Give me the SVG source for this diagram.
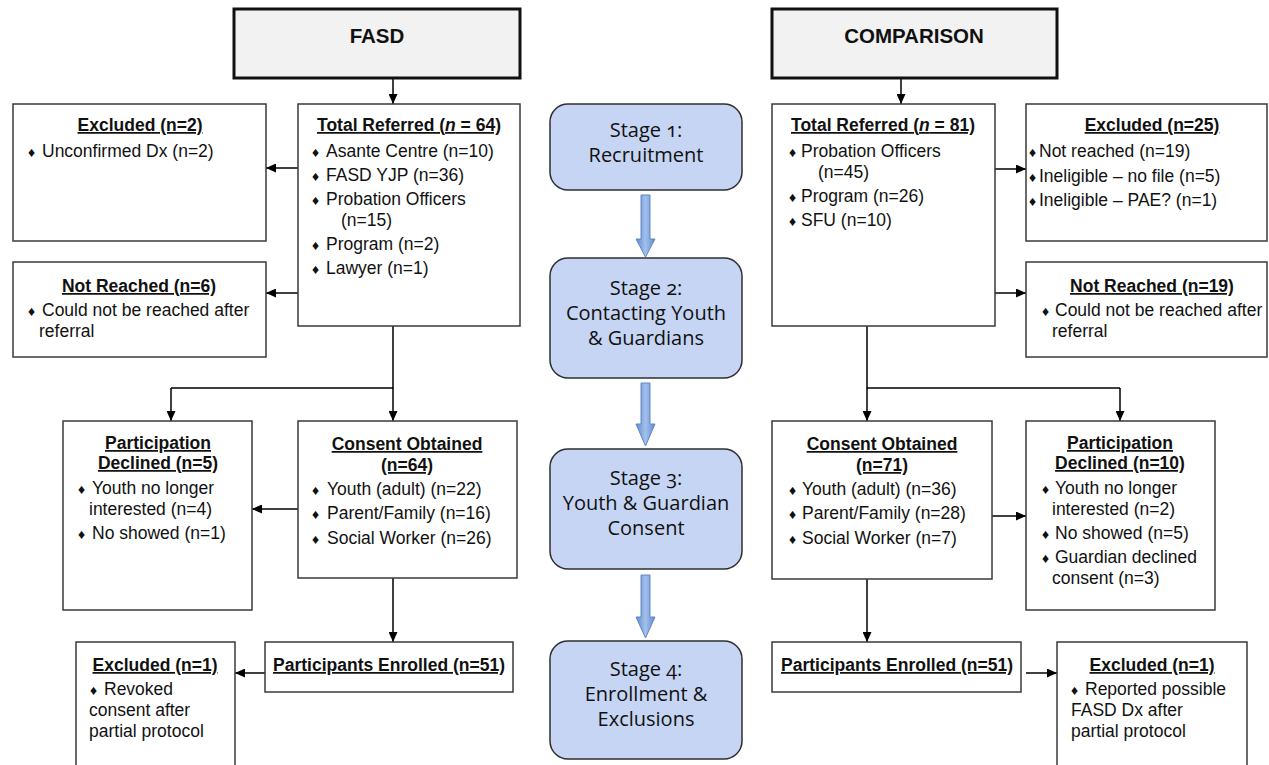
<svg xmlns="http://www.w3.org/2000/svg" width="1269" height="765" viewBox="0 0 1269 765">
<defs>
<style>
.box{fill:#fff;stroke:#3a3a3a;stroke-width:1.5}
.hdr{fill:#f2f2f2;stroke:#111;stroke-width:3}
.stage{fill:#c6d5f4;stroke:#2f2f2f;stroke-width:1.5}
.t{font-family:"Liberation Sans",Arial,sans-serif;font-size:17.5px;fill:#111}
.h{font-family:"Liberation Sans",Arial,sans-serif;font-size:20.5px;font-weight:bold;fill:#111;text-anchor:middle}
.b{font-weight:bold;text-decoration:underline}
.c{text-anchor:middle}
.dm{font-size:14px}
.st{font-family:"Open Sans",sans-serif;font-size:20px;fill:#111;text-anchor:middle;font-variant-numeric:oldstyle-nums}
.conn{stroke:#000;stroke-width:1.5;fill:none}
.arr{marker-end:url(#ah)}
.blk{fill:url(#bg);stroke:#5f88c4;stroke-width:1}
</style>
<marker id="ah" markerUnits="userSpaceOnUse" markerWidth="10" markerHeight="9" refX="10" refY="4.5" orient="auto">
<path d="M0,0 L10,4.5 L0,9 z" fill="#000"/>
</marker>
<linearGradient id="bg" x1="0" y1="0" x2="1" y2="0">
<stop offset="0" stop-color="#5f8bcb"/>
<stop offset="0.5" stop-color="#a3c0ec"/>
<stop offset="1" stop-color="#5f8bcb"/>
</linearGradient>
</defs>

<g id="connectors">
<line class="conn arr" x1="393" y1="78" x2="393" y2="104"/>
<line class="conn arr" x1="298" y1="168" x2="266" y2="168"/>
<line class="conn arr" x1="298" y1="293" x2="266" y2="293"/>
<polyline class="conn" points="393,326 393,388 171,388"/>
<line class="conn arr" x1="171" y1="388" x2="171" y2="421"/>
<line class="conn arr" x1="393" y1="388" x2="393" y2="421"/>
<line class="conn arr" x1="298" y1="509" x2="252" y2="509"/>
<line class="conn arr" x1="393" y1="578" x2="393" y2="642"/>
<line class="conn arr" x1="265" y1="673" x2="235" y2="673"/>

<line class="conn arr" x1="901" y1="78" x2="901" y2="104"/>
<line class="conn arr" x1="995" y1="169" x2="1026" y2="169"/>
<line class="conn arr" x1="995" y1="293" x2="1026" y2="293"/>
<polyline class="conn" points="867,326 867,388 1120,388"/>
<line class="conn arr" x1="867" y1="388" x2="867" y2="421"/>
<line class="conn arr" x1="1120" y1="388" x2="1120" y2="421"/>
<line class="conn arr" x1="992" y1="516" x2="1026" y2="516"/>
<line class="conn arr" x1="867" y1="579" x2="867" y2="642"/>
<line class="conn arr" x1="1026" y1="673" x2="1057" y2="673"/>

<polygon class="blk" points="641,195 650,195 650,239 655,239 645.5,257 636,239 641,239"/>
<polygon class="blk" points="641,383 650,383 650,424 655,424 645.5,446 636,424 641,424"/>
<polygon class="blk" points="641,575 650,575 650,617 655,617 645.5,638 636,617 641,617"/>
</g>

<g id="fasd-header">
<rect class="hdr" x="234" y="9" width="286" height="69"/>
<text class="h" x="377" y="43">FASD</text>
</g>
<g id="comparison-header">
<rect class="hdr" x="772" y="9" width="285" height="69"/>
<text class="h" x="914" y="43">COMPARISON</text>
</g>

<g id="fasd-total-referred">
<rect class="box" x="298" y="104" width="222" height="222"/>
<text class="t b c" x="409" y="131">Total Referred (<tspan font-style="italic">n</tspan> = 64)</text>
<text class="t" y="157"><tspan class="dm" x="312">♦</tspan><tspan x="326">Asante Centre (n=10)</tspan></text>
<text class="t" y="181"><tspan class="dm" x="312">♦</tspan><tspan x="326">FASD YJP (n=36)</tspan></text>
<text class="t" y="205"><tspan class="dm" x="312">♦</tspan><tspan x="326">Probation Officers</tspan></text>
<text class="t" x="341" y="226">(n=15)</text>
<text class="t" y="250"><tspan class="dm" x="312">♦</tspan><tspan x="326">Program (n=2)</tspan></text>
<text class="t" y="274"><tspan class="dm" x="312">♦</tspan><tspan x="326">Lawyer (n=1)</tspan></text>
</g>

<g id="fasd-excluded-2">
<rect class="box" x="13" y="104" width="253" height="137"/>
<text class="t b c" x="140" y="131">Excluded (n=2)</text>
<text class="t" y="157"><tspan class="dm" x="28">♦</tspan><tspan x="42">Unconfirmed Dx (n=2)</tspan></text>
</g>

<g id="fasd-not-reached">
<rect class="box" x="13" y="262" width="253" height="95"/>
<text class="t b c" x="139" y="292">Not Reached (n=6)</text>
<text class="t" y="316"><tspan class="dm" x="28">♦</tspan><tspan x="42">Could not be reached after</tspan></text>
<text class="t" x="39" y="337">referral</text>
</g>

<g id="fasd-declined">
<rect class="box" x="63" y="421" width="189" height="189"/>
<text class="t b c" x="158" y="449">Participation</text>
<text class="t b c" x="158" y="469">Declined (n=5)</text>
<text class="t" y="494"><tspan class="dm" x="78">♦</tspan><tspan x="92">Youth no longer</tspan></text>
<text class="t" x="89" y="515">interested (n=4)</text>
<text class="t" y="539"><tspan class="dm" x="78">♦</tspan><tspan x="92">No showed (n=1)</tspan></text>
</g>

<g id="fasd-consent">
<rect class="box" x="298" y="421" width="219" height="157"/>
<text class="t b c" x="407" y="450">Consent Obtained</text>
<text class="t b c" x="407" y="471">(n=64)</text>
<text class="t" y="495"><tspan class="dm" x="312">♦</tspan><tspan x="327">Youth (adult) (n=22)</tspan></text>
<text class="t" y="519"><tspan class="dm" x="312">♦</tspan><tspan x="327">Parent/Family (n=16)</tspan></text>
<text class="t" y="544"><tspan class="dm" x="312">♦</tspan><tspan x="327">Social Worker (n=26)</tspan></text>
</g>

<g id="fasd-enrolled">
<rect class="box" x="265" y="642" width="248" height="50"/>
<text class="t b c" x="389" y="671">Participants Enrolled (n=51)</text>
</g>

<g id="fasd-excluded-1">
<rect class="box" x="76" y="642" width="159" height="130"/>
<text class="t b c" x="155" y="671">Excluded (n=1)</text>
<text class="t" y="695"><tspan class="dm" x="90">♦</tspan><tspan x="104">Revoked</tspan></text>
<text class="t" x="89" y="716">consent after</text>
<text class="t" x="89" y="737">partial protocol</text>
</g>

<g id="stage-1">
<rect class="stage" x="550" y="104" width="192" height="86" rx="18"/>
<text class="st" x="646" y="137">Stage 1:</text>
<text class="st" x="646" y="162">Recruitment</text>
</g>
<g id="stage-2">
<rect class="stage" x="550" y="258" width="192" height="120" rx="18"/>
<text class="st" x="646" y="295">Stage 2:</text>
<text class="st" x="646" y="320">Contacting Youth</text>
<text class="st" x="646" y="345">&amp; Guardians</text>
</g>
<g id="stage-3">
<rect class="stage" x="550" y="449" width="192" height="120" rx="18"/>
<text class="st" x="646" y="485">Stage 3:</text>
<text class="st" x="646" y="510">Youth &amp; Guardian</text>
<text class="st" x="646" y="535">Consent</text>
</g>
<g id="stage-4">
<rect class="stage" x="550" y="641" width="192" height="118" rx="18"/>
<text class="st" x="646" y="676">Stage 4:</text>
<text class="st" x="646" y="701">Enrollment &amp;</text>
<text class="st" x="646" y="726">Exclusions</text>
</g>

<g id="comp-total-referred">
<rect class="box" x="772" y="104" width="223" height="222"/>
<text class="t b c" x="883" y="131">Total Referred (<tspan font-style="italic">n</tspan> = 81)</text>
<text class="t" y="157"><tspan class="dm" x="789">♦</tspan><tspan x="801">Probation Officers</tspan></text>
<text class="t" x="818" y="178">(n=45)</text>
<text class="t" y="202"><tspan class="dm" x="789">♦</tspan><tspan x="801">Program (n=26)</tspan></text>
<text class="t" y="226"><tspan class="dm" x="789">♦</tspan><tspan x="801">SFU (n=10)</tspan></text>
</g>

<g id="comp-excluded-25">
<rect class="box" x="1026" y="104" width="241" height="137"/>
<text class="t b c" x="1152" y="131">Excluded (n=25)</text>
<text class="t" y="157"><tspan class="dm" x="1029">♦</tspan><tspan x="1039">Not reached (n=19)</tspan></text>
<text class="t" y="182"><tspan class="dm" x="1029">♦</tspan><tspan x="1039">Ineligible – no file (n=5)</tspan></text>
<text class="t" y="206"><tspan class="dm" x="1029">♦</tspan><tspan x="1039">Ineligible – PAE? (n=1)</tspan></text>
</g>

<g id="comp-not-reached">
<rect class="box" x="1026" y="262" width="241" height="95"/>
<text class="t b c" x="1152" y="292">Not Reached (n=19)</text>
<text class="t" y="316"><tspan class="dm" x="1042">♦</tspan><tspan x="1055">Could not be reached after</tspan></text>
<text class="t" x="1052" y="337">referral</text>
</g>

<g id="comp-consent">
<rect class="box" x="772" y="421" width="220" height="158"/>
<text class="t b c" x="882" y="450">Consent Obtained</text>
<text class="t b c" x="882" y="471">(n=71)</text>
<text class="t" y="495"><tspan class="dm" x="789">♦</tspan><tspan x="802">Youth (adult) (n=36)</tspan></text>
<text class="t" y="519"><tspan class="dm" x="789">♦</tspan><tspan x="802">Parent/Family (n=28)</tspan></text>
<text class="t" y="544"><tspan class="dm" x="789">♦</tspan><tspan x="802">Social Worker (n=7)</tspan></text>
</g>

<g id="comp-declined">
<rect class="box" x="1026" y="421" width="189" height="189"/>
<text class="t b c" x="1120" y="449">Participation</text>
<text class="t b c" x="1120" y="469">Declined (n=10)</text>
<text class="t" y="494"><tspan class="dm" x="1042">♦</tspan><tspan x="1055">Youth no longer</tspan></text>
<text class="t" x="1052" y="515">interested (n=2)</text>
<text class="t" y="539"><tspan class="dm" x="1042">♦</tspan><tspan x="1055">No showed (n=5)</tspan></text>
<text class="t" y="563"><tspan class="dm" x="1042">♦</tspan><tspan x="1055">Guardian declined</tspan></text>
<text class="t" x="1052" y="584">consent (n=3)</text>
</g>

<g id="comp-enrolled">
<rect class="box" x="772" y="642" width="249" height="50"/>
<text class="t b c" x="897" y="671">Participants Enrolled (n=51)</text>
</g>

<g id="comp-excluded-1">
<rect class="box" x="1057" y="642" width="190" height="130"/>
<text class="t b c" x="1152" y="671">Excluded (n=1)</text>
<text class="t" y="695"><tspan class="dm" x="1071">♦</tspan><tspan x="1085">Reported possible</tspan></text>
<text class="t" x="1071" y="716">FASD Dx after</text>
<text class="t" x="1071" y="737">partial protocol</text>
</g>
</svg>
